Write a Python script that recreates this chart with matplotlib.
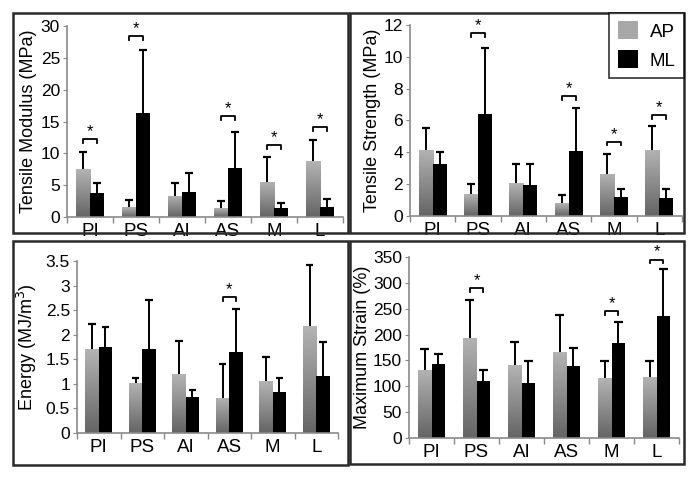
import numpy as np
import matplotlib
matplotlib.use("Agg")
import matplotlib.pyplot as plt
from matplotlib.colors import LinearSegmentedColormap
from matplotlib.patches import Rectangle, Patch
from matplotlib.ticker import FuncFormatter

plt.rcParams['font.family'] = ['Liberation Sans', 'DejaVu Sans']

regions = ["PI", "PS", "AI", "AS", "M", "L"]

# tensile modulus (MPa)
mod_ap = [7.5, 1.5, 3.35, 1.35, 5.55, 8.75]
mod_ap_sd = [2.7, 1.1, 2.05, 1.15, 3.95, 3.35]
mod_ml = [3.7, 16.3, 4.0, 7.75, 1.4, 1.5]
mod_ml_sd = [1.7, 10.0, 2.85, 5.65, 0.75, 1.4]
mod_sig = [0, 1, 3, 4, 5]
mod_sig_y = [12.2, 28.4, 15.8, 11.3, 14.1]

# tensile strength (MPa)
str_ap = [4.15, 1.38, 2.05, 0.8, 2.64, 4.15]
str_ap_sd = [1.35, 0.61, 1.22, 0.52, 1.26, 1.53]
str_ml = [3.27, 6.4, 1.93, 4.1, 1.21, 1.11]
str_ml_sd = [0.77, 4.18, 1.34, 2.7, 0.51, 0.59]
str_sig = [1, 3, 4, 5]
str_sig_y = [11.5, 7.54, 4.67, 6.35]

# energy (MJ/m^3)
en_ap = [1.70, 1.02, 1.20, 0.72, 1.05, 2.17]
en_ap_sd = [0.52, 0.10, 0.67, 0.68, 0.50, 1.25]
en_ml = [1.76, 1.71, 0.74, 1.64, 0.84, 1.17]
en_ml_sd = [0.39, 0.99, 0.14, 0.89, 0.27, 0.69]
en_sig = [3]
en_sig_y = [2.76]

# maximum strain (%)
strain_ap = [132, 194, 141, 167, 116, 118]
strain_ap_sd = [41, 72, 45, 71, 33, 31]
strain_ml = [143, 110, 107, 139, 184, 236]
strain_ml_sd = [19, 22, 42, 36, 41, 90]
strain_sig = [1, 4, 5]
strain_sig_y = [290, 245, 345]

W, H = 697, 480
fig = plt.figure(figsize=(W/100, H/100), dpi=100)

def px_axes(l, r, t, b):
    return fig.add_axes([l/W, 1 - b/H, (r-l)/W, (b-t)/H])

gray_cmap = LinearSegmentedColormap.from_list("g", ["#646464", "#b4b4b4"])
bw = 0.31

def panel(ax, ap, ap_sd, ml, ml_sd, sig, sig_y, ymax, ystep, ylabel, lab_x):
    x = np.arange(len(regions))
    xa = x - bw/2
    xm = x + bw/2
    bars = ax.bar(xa, ap, bw, color='none', edgecolor='none', zorder=2)
    grad = np.linspace(0, 1, 256).reshape(-1, 1)
    for b in bars:
        im = ax.imshow(grad, extent=[b.get_x(), b.get_x()+b.get_width(), 0, b.get_height()],
                       origin='lower', cmap=gray_cmap, aspect='auto', zorder=2)
        im.set_clip_path(b)
    ax.bar(xm, ml, bw, color='black', zorder=2)
    cap = 0.09
    for xs, m, s in [(xa, ap, ap_sd), (xm, ml, ml_sd)]:
        m = np.array(m); s = np.array(s)
        ax.vlines(xs, m, m+s, color='black', lw=1.4, zorder=3)
        ax.hlines(m+s, xs-cap, xs+cap, color='black', lw=1.6, zorder=3)
    leg = ymax*0.02
    for i, y in zip(sig, sig_y):
        ax.plot([xa[i], xa[i], xm[i], xm[i]], [y-leg, y, y, y-leg], color='black', lw=1.3, zorder=3)
        ax.text(x[i], y, "*", ha='center', va='bottom', fontsize=12)
    ax.set_xlim(-0.5, 5.5)
    ax.set_ylim(0, ymax)
    ax.set_yticks(np.arange(0, ymax + ystep/2, ystep))
    ax.yaxis.set_major_formatter(FuncFormatter(lambda v, p: "{:g}".format(round(v, 3))))
    ax.set_xticks(x)
    ax.set_xticklabels(regions, fontsize=13.5)
    ax.set_xticks(np.arange(-0.5, 6, 1), minor=True)
    ax.tick_params(axis='x', which='major', length=0, pad=4)
    ax.tick_params(axis='x', which='minor', length=4, color='#888888', width=1)
    ax.tick_params(axis='y', length=3, color='#888888', labelsize=12.5, pad=2)
    for s in ['top', 'right']:
        ax.spines[s].set_visible(False)
    for s in ['left', 'bottom']:
        ax.spines[s].set_color('#8a8a8a')
        ax.spines[s].set_linewidth(1.2)
    ax.set_ylabel(ylabel, fontsize=13)
    ax.yaxis.set_label_coords(lab_x, 0.5)
    ax.set_facecolor('none')

ax1 = px_axes(67, 343, 26, 217)
panel(ax1, mod_ap, mod_ap_sd, mod_ml, mod_ml_sd, mod_sig, mod_sig_y, 30, 5,
      "Tensile Modulus (MPa)", -0.11)
ax2 = px_axes(410, 682, 25, 216)
panel(ax2, str_ap, str_ap_sd, str_ml, str_ml_sd, str_sig, str_sig_y, 12, 2,
      "Tensile Strength (MPa)", -0.105)
ax3 = px_axes(77, 338, 261, 433)
panel(ax3, en_ap, en_ap_sd, en_ml, en_ml_sd, en_sig, en_sig_y, 3.5, 0.5,
      "Energy (MJ/m$^3$)", -0.145)
ax4 = px_axes(409, 679, 257, 438)
panel(ax4, strain_ap, strain_ap_sd, strain_ml, strain_ml_sd, strain_sig, strain_sig_y, 350, 50,
      "Maximum Strain (%)", -0.14)

# panel frames
for (l, t, r, b) in [(13, 13, 348, 233), (350, 13, 684, 233), (13, 241, 348, 465), (350, 241, 684, 464)]:
    fig.add_artist(Rectangle((l/W, 1 - b/H), (r-l)/W, (b-t)/H, transform=fig.transFigure,
                             fill=False, edgecolor='#2a2a2a', lw=1.8))

handles = [Patch(facecolor='#a8a8a8', edgecolor='none'), Patch(facecolor='black', edgecolor='none')]
lg = fig.legend(handles, ["AP", "ML"], loc='upper right', bbox_to_anchor=(684/W, 1 - 13/H),
                fontsize=13.5, frameon=True, fancybox=False, edgecolor='black',
                handlelength=1.1, handleheight=1.1, handletextpad=0.6, borderpad=0.45,
                labelspacing=0.5, borderaxespad=0)
lg.get_frame().set_linewidth(1.2)

fig.savefig("out.png", dpi=100)
